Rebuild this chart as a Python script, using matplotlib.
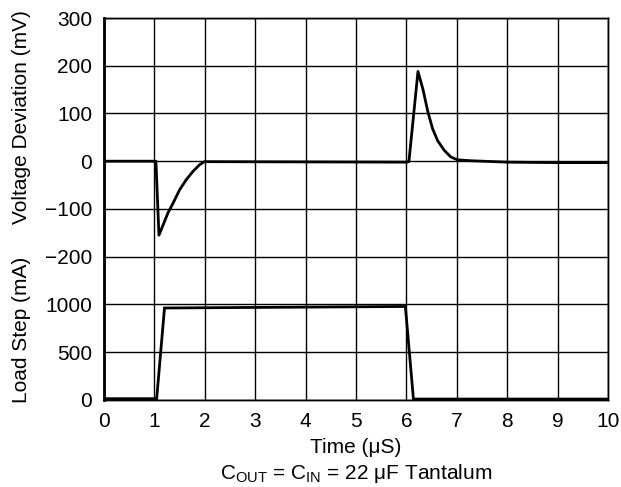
import numpy as np
import matplotlib
matplotlib.use('Agg')
import matplotlib.pyplot as plt

plt.rcParams['font.family'] = ['Liberation Sans', 'DejaVu Sans']
plt.rcParams['font.size'] = 15

# voltage deviation trace (mV)
t_v = [0.0, 1.0, 1.03, 1.09, 1.175, 1.27, 1.37, 1.5, 1.63, 1.76, 1.89, 1.99,
       6.0, 6.05, 6.23, 6.33, 6.43, 6.52, 6.62, 6.75, 6.88, 7.01, 7.27, 8.0, 9.0, 10.0]
v_mv = [0, 0, 0, -155, -133, -108, -88, -60, -39, -22, -8, -1,
        -2, -1, 188, 150, 102, 68, 43, 23, 9, 3, 1, -2, -3, -3]

# load step trace (mA)
t_i = [0.0, 1.045, 1.2, 3.0, 5.98, 6.14, 8.0, 10.0]
i_ma = [12, 12, 962, 968, 978, 8, 8, 8]

v_ticks = [-200, -100, 0, 100, 200, 300]
i_ticks = [0, 500, 1000]
x_ticks = list(range(0, 11))

fig = plt.figure(figsize=(6.21, 4.87), dpi=100)
ax = fig.add_axes([0.1675, 0.179, 0.8115, 0.784])
ax2 = ax.twinx()

# top part: mV axis spans -500..300 so that 8 rows of grid fit
ax.set_ylim(-500, 300)
ax.set_xlim(0, 10)
ax.set_yticks(np.arange(-500, 301, 100))
ax.set_yticklabels(['', '', ''] + [str(v).replace('-', '\u2212') for v in v_ticks])
ax.set_xticks(x_ticks)
ax.grid(True, color='black', linewidth=1.0)
ax.tick_params(axis='y', length=0, pad=8.5, labelsize=15)
ax.tick_params(axis='x', length=0, pad=9, labelsize=15)
ax.plot(t_v, v_mv, color='black', linewidth=2.0, solid_joinstyle='round')

# bottom part: mA axis spans 0..4000
ax2.set_ylim(0, 4000)
ax2.set_yticks(i_ticks)
ax2.yaxis.tick_left()
ax2.tick_params(length=0, pad=8.5, labelsize=15)
ax2.plot(t_i, i_ma, color='black', linewidth=2.0, solid_joinstyle='miter')

for a in (ax, ax2):
    for s in a.spines.values():
        s.set_linewidth(1.0)
ax.spines['left'].set_linewidth(2.0)

ax.set_xlabel('Time (\u03bcS)', fontsize=15, labelpad=5)

fig.text(0.035, 0.76, 'Voltage Deviation (mV)', rotation=90, ha='center', va='center', fontsize=15)
fig.text(0.035, 0.322, 'Load Step (mA)', rotation=90, ha='center', va='center', fontsize=15)
fig.text(0.573, 0.028, 'C$_{\\mathregular{OUT}}$ = C$_{\\mathregular{IN}}$ = 22 \u03bcF Tantalum',
         ha='center', va='center', fontsize=15)

fig.savefig('out.png', dpi=100)
